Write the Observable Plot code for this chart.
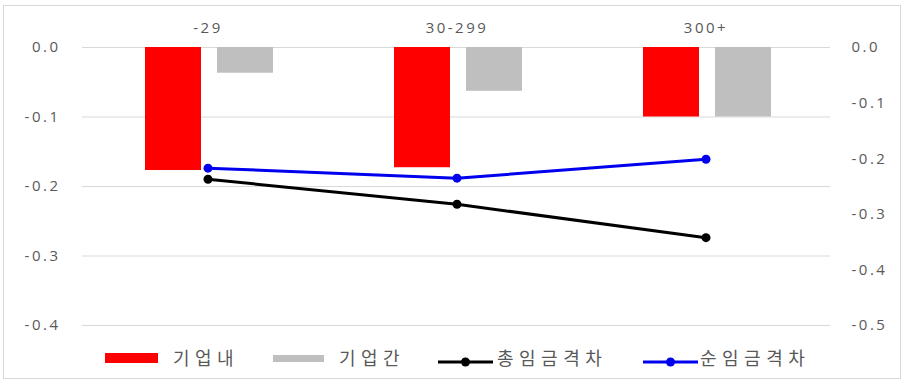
<!DOCTYPE html>
<html>
<head>
<meta charset="utf-8">
<script src="https://cdn.jsdelivr.net/npm/d3@7"></script>
<script src="https://cdn.jsdelivr.net/npm/@observablehq/plot@0.6"></script>
<style>
  html, body { margin: 0; padding: 0; background: #fff; }
  #wrap { position: relative; width: 906px; height: 383px; overflow: hidden; }
  #frame { position: absolute; left: 3px; top: 5px; width: 898px; height: 374px; border: 1px solid #d9d9d9; box-sizing: border-box; pointer-events: none; }
  #chart { position: absolute; left: 0; top: 0; }
  #chart svg text { letter-spacing: 2.5px; }
  .leg { position: absolute; font-family: "Noto Sans CJK KR", sans-serif; font-size: 18px; color: #595959; letter-spacing: 5.5px; line-height: 20px; top: 347px; }
  .sw { position: absolute; }
</style>
</head>
<body>
<div id="wrap">
  <div id="chart"></div>
  <div id="frame"></div>
</div>
<script>
// ---- data ----
const categories = ["-29", "30-299", "300+"];
const withinFirm = [-0.177, -0.173, -0.100];   // 기업내 (left axis)
const betweenFirm = [-0.037, -0.063, -0.100];  // 기업간 (left axis)
const totalGap = [-0.237, -0.282, -0.342];     // 총임금격차 (right axis)
const netGap = [-0.217, -0.235, -0.201];       // 순임금격차 (right axis)
const leftTicks = [0, -0.1, -0.2, -0.3, -0.4];
const rightTicks = [0, -0.1, -0.2, -0.3, -0.4, -0.5];
const seriesNames = ["기업내", "기업간", "총임금격차", "순임금격차"];
const seriesColors = ["#ff0000", "#bfbfbf", "#000000", "#0000ee"];

const k = 0.4 / 0.5; // right axis -> left axis units

const within = categories.map((c, i) => ({cat: c, v: withinFirm[i]}));
const between = categories.map((c, i) => ({cat: c, v: betweenFirm[i]}));
const total = categories.map((c, i) => ({cat: c, v: totalGap[i]}));
const net = categories.map((c, i) => ({cat: c, v: netGap[i]}));

const fmt = d => (Math.abs(d) < 1e-9 ? 0 : d).toFixed(1);

const plot = Plot.plot({
  width: 906,
  height: 340,
  marginTop: 47,
  marginBottom: 15,
  marginLeft: 82,
  marginRight: 76,
  style: {fontFamily: "'Open Sans', 'Noto Sans', sans-serif", fontSize: "15px", color: "#595959", background: "transparent"},
  x: {type: "band", domain: categories, padding: 0},
  y: {domain: [-0.4, 0]},
  marks: [
    Plot.gridY({ticks: leftTicks, stroke: "#d9d9d9", strokeOpacity: 1}),
    Plot.barY(within, {x: "cat", y: "v", fill: seriesColors[0], insetLeft: 62, insetRight: 131}),
    Plot.barY(between, {x: "cat", y: "v", fill: seriesColors[1], insetLeft: 134, insetRight: 59}),
    Plot.line(net, {x: "cat", y: d => d.v * k, stroke: seriesColors[3], strokeWidth: 3}),
    Plot.dot(net, {x: "cat", y: d => d.v * k, r: 4.5, fill: seriesColors[3]}),
    Plot.line(total, {x: "cat", y: d => d.v * k, stroke: seriesColors[2], strokeWidth: 3}),
    Plot.dot(total, {x: "cat", y: d => d.v * k, r: 4.5, fill: seriesColors[2]}),
    Plot.axisX({anchor: "top", tickSize: 0, tickPadding: 15, label: null}),
    Plot.axisY({anchor: "left", ticks: leftTicks, tickSize: 0, tickPadding: 22, tickFormat: fmt, label: null}),
    Plot.axisY({anchor: "right", ticks: rightTicks.map(t => t * k), tickSize: 0, tickPadding: 21, tickFormat: d => fmt(d / k), label: null})
  ]
});
document.getElementById("chart").appendChild(plot);

// ---- legend ----
const wrap = document.getElementById("wrap");
const legendLayout = [
  {sw: {left: 105, top: 353, width: 53, height: 10}, type: "rect", text: 173},
  {sw: {left: 273, top: 355, width: 51, height: 7}, type: "rect", text: 339},
  {sw: {left: 438, top: 358, width: 55}, type: "line", text: 497},
  {sw: {left: 643, top: 358, width: 55}, type: "line", text: 700}
];
legendLayout.forEach((L, i) => {
  const s = document.createElement("div");
  s.className = "sw";
  if (L.type === "rect") {
    Object.assign(s.style, {left: L.sw.left + "px", top: L.sw.top + "px", width: L.sw.width + "px", height: L.sw.height + "px", background: seriesColors[i]});
  } else {
    Object.assign(s.style, {left: L.sw.left + "px", top: (L.sw.top - 5) + "px", width: L.sw.width + "px", height: "10px"});
    s.innerHTML = `<svg width="${L.sw.width}" height="10"><line x1="0" x2="${L.sw.width}" y1="5" y2="5" stroke="${seriesColors[i]}" stroke-width="3"/><circle cx="${L.sw.width/2}" cy="5" r="4.5" fill="${seriesColors[i]}"/></svg>`;
  }
  wrap.appendChild(s);
  const t = document.createElement("div");
  t.className = "leg";
  t.style.left = L.text + "px";
  t.textContent = seriesNames[i];
  wrap.appendChild(t);
});
</script>
</body>
</html>
